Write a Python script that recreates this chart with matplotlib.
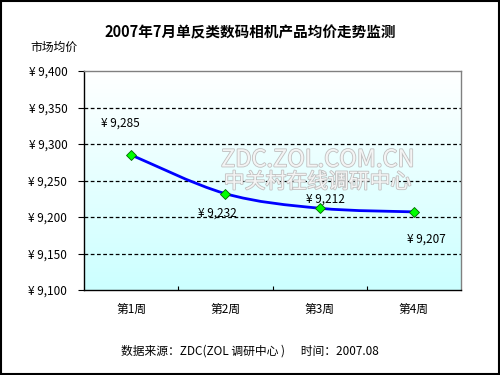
import numpy as np
import matplotlib.pyplot as plt
import matplotlib.patheffects as pe
from matplotlib.path import Path
from matplotlib.patches import PathPatch, Rectangle
from matplotlib.colors import LinearSegmentedColormap

plt.rcParams['font.family'] = ['Noto Sans CJK SC', 'DejaVu Sans']

weeks = ['第1周', '第2周', '第3周', '第4周']
prices = [9285, 9232, 9212, 9207]
yticks = [9100, 9150, 9200, 9250, 9300, 9350, 9400]

# where each value label sits relative to its point (x in categories, y in price)
label_dx = [-0.11, -0.08, 0.06, 0.13]
label_dy = [44, -27, 13, -38]

fig = plt.figure(figsize=(5, 3.75), dpi=100)
ax = fig.add_axes([84 / 500, 1 - 290 / 375, 377 / 500, 219 / 375])

x = np.arange(len(prices)) + 0.5

# gradient background, white at top to light cyan at bottom
cmap = LinearSegmentedColormap.from_list('bg', ['#ffffff', '#ccffff'])
grad = np.linspace(0, 1, 256).reshape(-1, 1)
ax.imshow(grad, cmap=cmap, aspect='auto', extent=[0, 4, 9100, 9400],
          zorder=0, origin='upper')
ax.set_xlim(0, 4)
ax.set_ylim(9100, 9400)

# dashed gridlines
for v in yticks[1:-1]:
    ax.axhline(v, color='black', lw=0.9, ls=(0, (3, 2)), zorder=1)

# watermark
wm_fx = [pe.withStroke(linewidth=1.2, foreground='#c0c0c0')]
ax.text(2.48, 9278, 'ZDC.ZOL.COM.CN', ha='center', va='center', fontsize=17,
        color='#f4f4f4', zorder=2, path_effects=wm_fx)
ax.text(2.48, 9248, '中关村在线调研中心', ha='center', va='center', fontsize=15,
        color='#f4f4f4', zorder=2, path_effects=wm_fx)

# smoothed line (Catmull-Rom to Bezier)
pts = np.column_stack([x, prices]).astype(float)
verts = [tuple(pts[0])]
codes = [Path.MOVETO]
for i in range(len(pts) - 1):
    p0 = pts[i - 1] if i > 0 else pts[i]
    p1 = pts[i]
    p2 = pts[i + 1]
    p3 = pts[i + 2] if i + 2 < len(pts) else pts[i + 1]
    c1 = p1 + (p2 - p0) / 6
    c2 = p2 - (p3 - p1) / 6
    verts += [tuple(c1), tuple(c2), tuple(p2)]
    codes += [Path.CURVE4] * 3
ax.add_patch(PathPatch(Path(verts, codes), fill=False, edgecolor='#0000ff',
                       lw=2, zorder=3))
ax.plot(x, prices, ls='none', marker='D', ms=5, mfc='#00ff00',
        mec='#006600', mew=0.6, zorder=4)

for xi, p, dx, dy in zip(x, prices, label_dx, label_dy):
    ax.text(xi + dx, p + dy, '¥ {:,}'.format(p), ha='center', va='center',
            fontsize=8.5, zorder=5)

ax.set_yticks(yticks)
ax.set_yticklabels(['¥ {:,}'.format(v) for v in yticks], fontsize=8.5)
ax.set_xticks([1, 2, 3])
ax.set_xticklabels([])
ax.tick_params(axis='x', direction='in', length=3, width=0.8)
ax.tick_params(axis='y', length=4, width=0.8, pad=8)
for xi, w in zip(x, weeks):
    ax.text(xi, 9100 - 26, w, ha='center', va='center', fontsize=8.5)

ax.spines['top'].set_color('#808080')
ax.spines['right'].set_color('#808080')
for s in ax.spines.values():
    s.set_linewidth(1)

fig.text(0.5, 1 - 32 / 375, '2007年7月单反类数码相机产品均价走势监测',
         ha='center', va='center', fontsize=10.5, fontweight='bold')
fig.text(30 / 500, 1 - 47 / 375, '市场均价', ha='left', va='center',
         fontsize=8.5)
fig.text(0.5, 1 - 351 / 375, '数据来源：ZDC(ZOL 调研中心 )      时间：2007.08',
         ha='center', va='center', fontsize=8.5)

fig.add_artist(Rectangle((0.002, 0.003), 0.996, 0.994, transform=fig.transFigure,
                         fill=False, edgecolor='black', lw=1.5))

fig.savefig('out.png', dpi=100)
